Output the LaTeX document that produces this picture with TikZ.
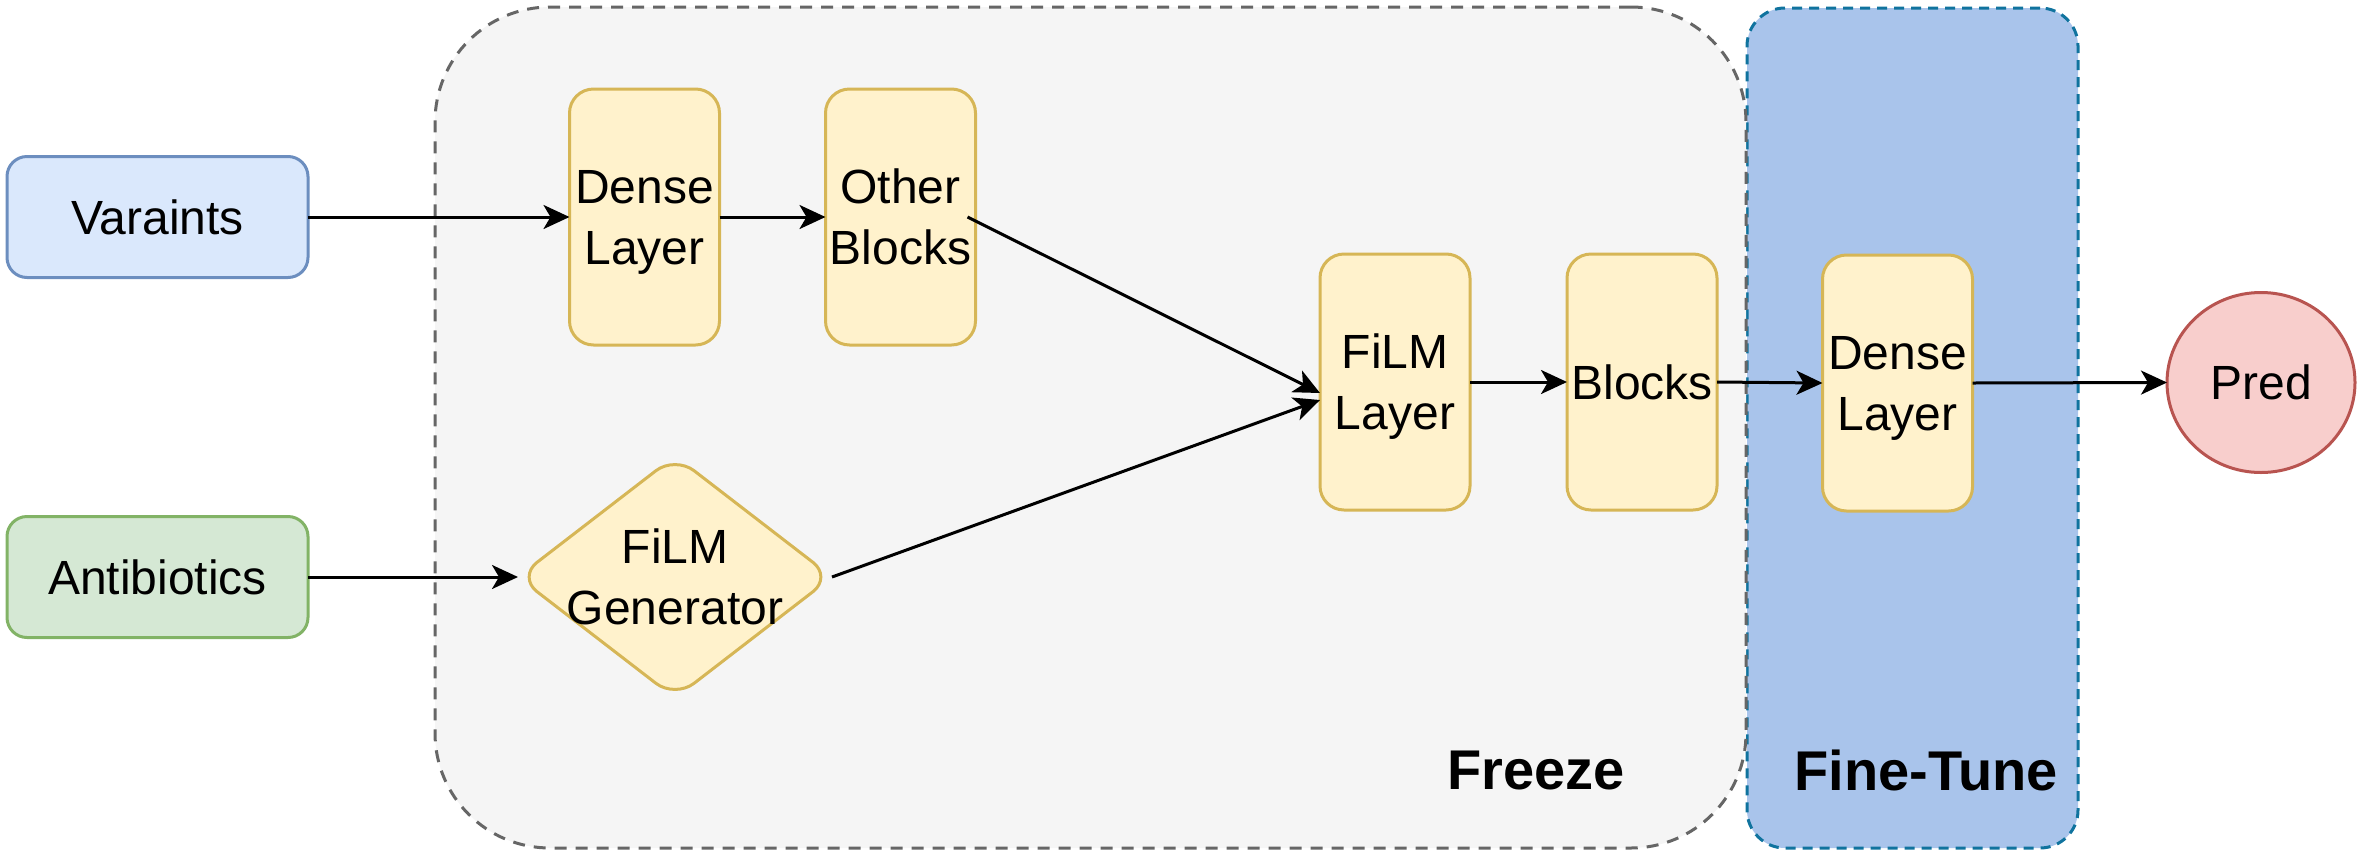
\documentclass[tikz,border=0pt]{standalone}
\usepackage{fontspec}
\setmainfont{Liberation Sans}
\usetikzlibrary{shapes.geometric,arrows.meta,calc}
\definecolor{frfill}{HTML}{F5F5F5}
\definecolor{frdraw}{HTML}{666666}
\definecolor{ftfill}{HTML}{A9C4EB}
\definecolor{ftdraw}{HTML}{10739E}
\definecolor{yfill}{HTML}{FFF2CC}
\definecolor{ydraw}{HTML}{D6B656}
\definecolor{bfill}{HTML}{DAE8FC}
\definecolor{bdraw}{HTML}{6C8EBF}
\definecolor{gfill}{HTML}{D5E8D4}
\definecolor{gdraw}{HTML}{82B366}
\definecolor{rfill}{HTML}{F8CECC}
\definecolor{rdraw}{HTML}{B85450}
\tikzset{
  base/.style={line width=3pt, inner sep=0pt, outer sep=0pt,
    font=\fontsize{48}{61}\selectfont, align=center},
  inbox/.style={base, rectangle, rounded corners=20pt, minimum width=301pt, minimum height=121pt},
  ybox/.style={base, rectangle, rounded corners=24pt, fill=yfill, draw=ydraw, minimum width=150pt, minimum height=256pt},
  ydiam/.style={base, diamond, rounded corners=24pt, fill=yfill, draw=ydraw, minimum width=314pt, minimum height=242pt},
  txt/.style={font=\fontsize{48}{61}\selectfont, align=center, inner sep=0pt, yshift=-5pt},
  lbl/.style={font=\fontsize{56}{66}\selectfont\bfseries, inner sep=0pt},
  arr/.style={line width=3pt, -{Stealth[length=26pt,width=24pt,inset=7pt]}},
  frbox/.style={rectangle, rounded corners=115pt, fill=frfill, draw=frdraw, line width=3pt, dash pattern=on 12pt off 9pt, inner sep=0pt, outer sep=0pt},
  ftbox/.style={rectangle, rounded corners=38pt, fill=ftfill, draw=ftdraw, line width=3pt, dash pattern=on 10pt off 7pt, inner sep=0pt, outer sep=0pt},
}
\begin{document}
\begin{tikzpicture}[x=1pt,y=-1pt]
\useasboundingbox (0,0) rectangle (2364,855);
% containers
\node[ftbox, minimum width=331pt, minimum height=840pt] (ft) at (1912.5,428) {};
\node[frbox, minimum width=1311pt, minimum height=841pt] (fr) at (1090.5,427.5) {};
\node[lbl] (frlbl) at (1536,770) {Freeze};
\node[lbl] (ftlbl) at (1926,770) {Fine-Tune};
% inputs
\node[inbox, fill=bfill, draw=bdraw] (var) at (157.5,217) {Varaints};
\node[inbox, fill=gfill, draw=gdraw] (ant) at (157.5,577) {Antibiotics};
% blocks
\node[ybox] (d1) at (644.5,217) {};
\node[txt] (d1t) at (d1.center) {Dense\\Layer};
\node[ybox] (oth) at (900.5,217) {};
\node[txt] (otht) at (oth.center) {Other\\Blocks\vphantom{y}};
\node[ydiam] (gen) at (675,577) {};
\node[txt] (gent) at (gen.center) {FiLM\\Generator\vphantom{y}};
\node[ybox] (film) at (1395,382) {};
\node[txt] (filmt) at (film.center) {FiLM\\Layer};
\node[ybox] (blk) at (1642,382) {Blocks};
\node[ybox] (d2) at (1897.5,383) {};
\node[txt] (d2t) at (d2.center) {Dense\\Layer};
\node[base, ellipse, fill=rfill, draw=rdraw, minimum width=188pt, minimum height=180pt] (pred) at (2261,382.5) {Pred};
% connectors
\draw[arr] (var.east) -- (d1.west);
\draw[arr] (d1.east) -- (oth.west);
\draw[arr] ($(oth.east)+(-8,0)$) -- ($(film.west)+(0,11)$);
\draw[arr] (ant.east) -- (gen.west);
\draw[arr] (gen.east) -- ($(film.west)+(0,18)$);
\draw[arr] (film.east) -- (blk.west);
\draw[arr] (blk.east) -- (d2.west);
\draw[arr] (d2.east) -- (pred.west);
\end{tikzpicture}
\end{document}
